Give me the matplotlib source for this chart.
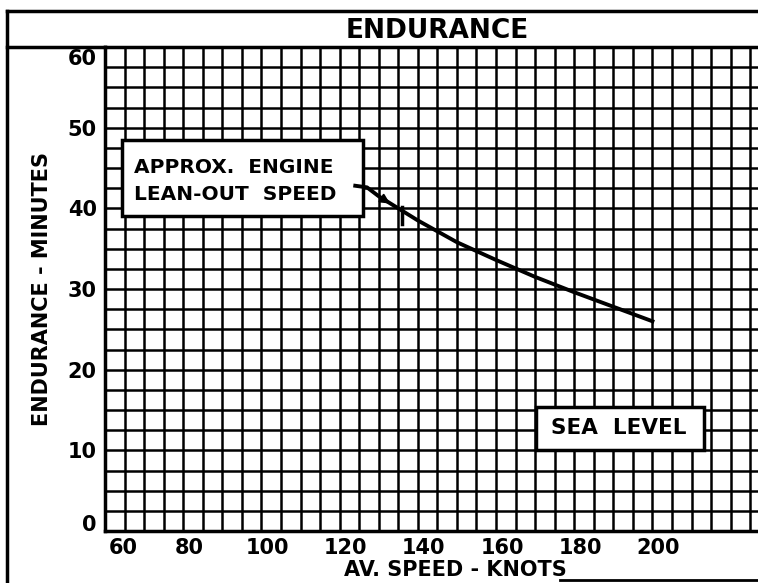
import numpy as np
import matplotlib.pyplot as plt
import matplotlib.transforms as mtransforms
from matplotlib.lines import Line2D
from matplotlib.patches import Rectangle

# data
speed = np.array([124, 127, 130, 135, 140, 150, 160, 170, 180, 190, 200])
endurance = np.array([42.8, 42.6, 41.5, 40.0, 38.5, 35.8, 33.6, 31.5, 29.6, 27.8, 26.0])
lean_out_speed = 136
x_ticks = [60, 80, 100, 120, 140, 160, 180, 200]
y_ticks = [0, 10, 20, 30, 40, 50, 60]

plt.rcParams['font.family'] = ['DejaVu Sans']
plt.rcParams['font.weight'] = 'bold'
plt.rcParams['axes.labelweight'] = 'bold'

fig = plt.figure(figsize=(7.58, 5.83), dpi=100)
ax = fig.add_axes([105 / 758, 1 - 531 / 583, 1 - 105 / 758, (531 - 47) / 583])

ax.set_xlim(60, 227)
ax.set_ylim(0, 60)
ax.set_xticks(x_ticks)
ax.set_xticks(np.arange(60, 228, 5), minor=True)
ax.set_yticks(y_ticks)
ax.set_yticks(np.arange(0, 61, 2.5), minor=True)
ax.grid(which='both', color='black', linewidth=1.8)
ax.tick_params(which='both', length=0, labelsize=15, colors='black')
ax.tick_params(axis='x', pad=5)
ax.tick_params(axis='y', pad=6)
for s in ['left', 'bottom', 'top']:
    ax.spines[s].set_linewidth(2.5)
ax.spines['right'].set_visible(False)
ax.set_axisbelow(True)

# hand-lettered labels sit a bit off their lines; nudge the corner ones
def nudge(label, dx, dy):
    off = mtransforms.ScaledTranslation(dx / 100, dy / 100, fig.dpi_scale_trans)
    label.set_transform(label.get_transform() + off)

xl = ax.get_xticklabels()
yl = ax.get_yticklabels()
nudge(xl[0], 18, 0)
for lab in xl[1:]:
    nudge(lab, 6, 0)
nudge(yl[0], 0, 8)
nudge(yl[-1], 0, -10)

ax.set_xlabel('AV. SPEED - KNOTS', fontsize=15)
ax.set_ylabel('ENDURANCE - MINUTES', fontsize=15, labelpad=11)
ax.xaxis.set_label_coords((455 - 105) / 653, -0.06)

# curve
ax.plot(speed, endurance, color='black', linewidth=2.8, zorder=5)
ax.annotate('', xy=(133.5, 40.4), xytext=(129, 41.8),
            arrowprops=dict(arrowstyle='-|>', color='black', lw=1.5, mutation_scale=14), zorder=6)
ax.plot([lean_out_speed, lean_out_speed], [38.0, 40.2], color='black', linewidth=2.5, zorder=6)

# note boxes
ax.add_patch(Rectangle((64.4, 39.1), 61.5, 9.4, facecolor='white', edgecolor='black',
                       linewidth=2.5, zorder=4))
ax.text(67.5, 45.1, 'APPROX.  ENGINE', fontsize=14.5, va='center', ha='left', zorder=6)
ax.text(67.5, 41.7, 'LEAN-OUT  SPEED', fontsize=14.5, va='center', ha='left', zorder=6)

ax.add_patch(Rectangle((170.3, 10.1), 43, 5.3, facecolor='white', edgecolor='black',
                       linewidth=2.5, zorder=4))
ax.text(191.5, 12.75, 'SEA  LEVEL', fontsize=15.5, va='center', ha='center', zorder=6)

# title band and page border
fig.text(437 / 758, 1 - 31 / 583, 'ENDURANCE', fontsize=19, ha='center', va='center')
fig.add_artist(Line2D([7 / 758, 1], [1 - 11 / 583, 1 - 11 / 583], color='black', lw=2.5))
fig.add_artist(Line2D([7 / 758, 7 / 758], [0, 1 - 11 / 583], color='black', lw=2.5))
fig.add_artist(Line2D([7 / 758, 105 / 758], [1 - 47 / 583, 1 - 47 / 583], color='black', lw=2.5))
fig.add_artist(Line2D([560 / 758, 1], [1 - 580 / 583, 1 - 580 / 583], color='black', lw=2))

fig.savefig('out.png', dpi=100)
